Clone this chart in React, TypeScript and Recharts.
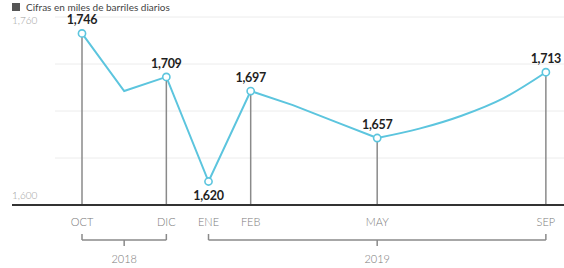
import React from 'react';
import { LineChart, Line, XAxis, YAxis, ReferenceLine, ReferenceDot } from 'recharts';

const months = ['OCT', 'NOV', 'DIC', 'ENE', 'FEB', 'MAR', 'ABR', 'MAY', 'JUN', 'JUL', 'AGO', 'SEP'];
const values = [1746, 1697, 1709, 1620, 1697, 1685, 1671, 1657, 1665, 1676, 1691, 1713];
const labeledMonths = ['OCT', 'DIC', 'ENE', 'FEB', 'MAY', 'SEP'];
const dropLineMonths = ['OCT', 'DIC', 'FEB', 'MAY', 'SEP'];
const belowLabelMonths = ['ENE'];
const smoothFrom = 'MAY';
const yTicks = [1600, 1760];
const gridValues = [1640, 1680, 1720, 1760];
const years = ['2018', '2019'];
const yearStart = ['OCT', 'ENE'];
const yearEnd = ['DIC', 'SEP'];
const yearCenter = ['NOV', 'MAY'];
const title = 'Cifras en miles de barriles diarios';

const idx = (m: string) => months.indexOf(m);
const splitAt = idx(smoothFrom);
const data = months.map((m, i) => ({
  x: i,
  month: m,
  value: values[i],
  first: i <= splitAt ? values[i] : null,
  second: i >= splitAt ? values[i] : null,
}));

const W = 564;
const H = 268;
const LINE = '#5cc5de';
const X_DOMAIN: [number, number] = [-1.66, 11.43];
const Y_MIN = 1600;
const PX_PER_UNIT = 188 / 160;
// convert pixel offsets below the axis into data units (layout only)
const below = (px: number) => Y_MIN - px / PX_PER_UNIT;

const fmt = (v: number) => v.toLocaleString('en-US');

const XTick = (props: any) => {
  const { x, payload } = props;
  return (
    <text x={x} y={226} textAnchor="middle" fill="#7a7a7a" fontSize={11} fontFamily="Lato" fontWeight={300}>
      {months[payload.value]}
    </text>
  );
};

const YTick = (props: any) => {
  const { y, payload } = props;
  const isTop = payload.value === 1760;
  return (
    <text x={12} y={isTop ? y + 7 : y - 6} textAnchor="start" fill="#9a9a9a" fontSize={10} fontFamily="Lato" fontWeight={300}>
      {fmt(payload.value)}
    </text>
  );
};

const makeDot = (allowed: (i: number) => boolean) => (props: any) => {
  const { cx, cy, payload } = props;
  if (!labeledMonths.includes(payload.month) || !allowed(payload.x)) return <g key={`d${payload.x}`} />;
  const isBelow = belowLabelMonths.includes(payload.month);
  return (
    <g key={`d${payload.x}`}>
      <circle cx={cx} cy={cy} r={3.6} fill="#fff" stroke={LINE} strokeWidth={1.6} />
      <text
        x={cx}
        y={isBelow ? cy + 18 : cy - 9}
        textAnchor="middle"
        fill="#1f1f1f"
        fontSize={12.5}
        fontWeight={700}
        fontFamily="Lato"
        letterSpacing={-0.3}
      >
        {fmt(payload.value)}
      </text>
    </g>
  );
};

const firstDot = makeDot((i) => i <= splitAt);
const secondDot = makeDot((i) => i > splitAt);

export default function App() {
  return (
    <div style={{ position: 'absolute', left: 0, top: 0, width: W, height: H, overflow: 'hidden', background: '#fff' }}>
      <div
        style={{
          position: 'absolute',
          left: 12,
          top: 1,
          fontFamily: 'Lato',
          fontSize: 10,
          lineHeight: '12px',
          color: '#444',
          whiteSpace: 'nowrap',
        }}
      >
        <span style={{ display: 'inline-block', width: 8, height: 8, background: '#555', marginRight: 6 }} />
        {title}
      </div>
      <LineChart width={W} height={H} data={data} margin={{ top: 17, right: 0, bottom: 33, left: 12 }}>
        <XAxis
          dataKey="x"
          type="number"
          domain={X_DOMAIN}
          allowDataOverflow
          ticks={labeledMonths.map(idx)}
          tick={<XTick />}
          tickLine={false}
          axisLine={{ stroke: '#333', strokeWidth: 2 }}
          height={30}
          interval={0}
        />
        <YAxis
          type="number"
          domain={[1600, 1760]}
          ticks={yTicks}
          tick={<YTick />}
          axisLine={false}
          tickLine={false}
          mirror
          width={40}
        />
        {gridValues.map((g) => (
          <ReferenceLine
            key={`g${g}`}
            segment={[{ x: -0.64, y: g }, { x: X_DOMAIN[1], y: g }]}
            stroke="#ececec"
            strokeWidth={1}
            ifOverflow="visible"
          />
        ))}
        {dropLineMonths.map((m) => (
          <ReferenceLine
            key={`v${m}`}
            segment={[{ x: idx(m), y: values[idx(m)] }, { x: idx(m), y: Y_MIN }]}
            stroke="#8a8a8a"
            strokeWidth={1.5}
            ifOverflow="visible"
          />
        ))}
        {years.map((yr, k) => (
          <ReferenceLine
            key={`bh${yr}`}
            segment={[{ x: idx(yearStart[k]), y: below(35) }, { x: idx(yearEnd[k]), y: below(35) }]}
            stroke="#8a8a8a"
            strokeWidth={1.5}
            ifOverflow="visible"
          />
        ))}
        {years.map((yr, k) => (
          <ReferenceLine
            key={`bl${yr}`}
            segment={[{ x: idx(yearStart[k]), y: below(35) }, { x: idx(yearStart[k]), y: below(29) }]}
            stroke="#8a8a8a"
            strokeWidth={1.5}
            ifOverflow="visible"
          />
        ))}
        {years.map((yr, k) => (
          <ReferenceLine
            key={`br${yr}`}
            segment={[{ x: idx(yearEnd[k]), y: below(35) }, { x: idx(yearEnd[k]), y: below(29) }]}
            stroke="#8a8a8a"
            strokeWidth={1.5}
            ifOverflow="visible"
          />
        ))}
        {years.map((yr, k) => (
          <ReferenceLine
            key={`bc${yr}`}
            segment={[{ x: idx(yearCenter[k]), y: below(35) }, { x: idx(yearCenter[k]), y: below(41) }]}
            stroke="#8a8a8a"
            strokeWidth={1.5}
            ifOverflow="visible"
          />
        ))}
        {years.map((yr, k) => (
          <ReferenceDot
            key={`yl${yr}`}
            x={idx(yearCenter[k])}
            y={below(54)}
            r={0}
            fill="none"
            stroke="none"
            ifOverflow="visible"
            label={{ value: yr, position: 'center', fill: '#7a7a7a', fontSize: 11, fontFamily: 'Lato', fontWeight: 300 }}
          />
        ))}
        <Line
          dataKey="second"
          type="monotone"
          stroke={LINE}
          strokeWidth={2}
          dot={secondDot}
          activeDot={false}
          connectNulls={false}
          isAnimationActive={false}
        />
        <Line
          dataKey="first"
          type="linear"
          stroke={LINE}
          strokeWidth={2}
          dot={firstDot}
          activeDot={false}
          connectNulls={false}
          isAnimationActive={false}
        />
      </LineChart>
    </div>
  );
}
